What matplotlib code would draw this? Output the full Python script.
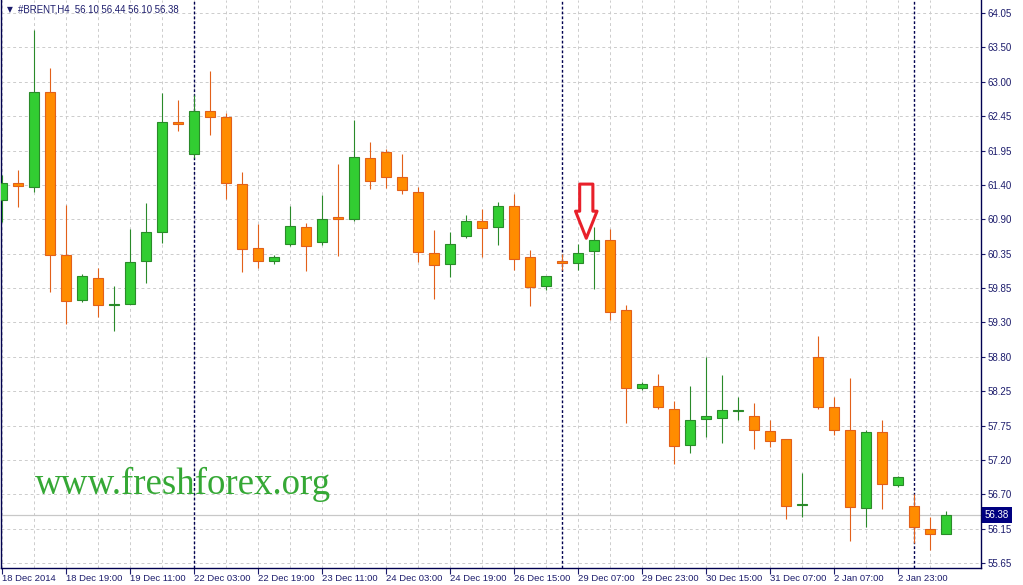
import matplotlib
matplotlib.use("Agg")
import matplotlib.figure
import matplotlib.transforms as mtransforms
import numpy

# H4 candles (open, high, low, close)
opens = [61.20, 61.45, 61.40, 62.84, 60.35, 59.66, 60.01, 59.59, 59.61, 60.27,
         60.70, 62.39, 61.89, 62.55, 62.46, 61.44, 60.46, 60.27, 60.52, 60.78,
         60.55, 60.93, 60.90, 61.83, 61.92, 61.54, 61.31, 60.38, 60.21, 60.64,
         60.88, 60.78, 61.10, 60.32, 59.88, 60.26, 60.23, 60.41, 60.59, 59.52,
         58.33, 58.35, 58.01, 57.45, 57.85, 57.87, 57.97, 57.89, 57.66, 57.54,
         56.53, 58.79, 58.04, 57.68, 56.49, 57.65, 56.84, 56.52, 56.17, 56.10]
highs = [61.58, 61.65, 63.79, 63.21, 61.12, 60.07, 60.16, 59.88, 60.75, 61.15,
         62.83, 62.72, 62.80, 63.16, 62.53, 61.62, 60.83, 60.35, 61.10, 60.84,
         61.27, 61.75, 62.42, 62.08, 61.98, 61.90, 61.40, 60.74, 60.70, 60.96,
         61.06, 61.16, 61.28, 60.43, 60.03, 60.37, 60.53, 60.78, 60.75, 59.59,
         58.41, 58.54, 58.12, 58.35, 58.79, 58.52, 58.18, 58.09, 57.83, 57.54,
         57.02, 59.11, 58.18, 58.47, 57.68, 57.83, 56.98, 56.71, 56.35, 56.44]
lows = [60.86, 61.09, 61.32, 59.79, 59.30, 59.64, 59.40, 59.20, 59.61, 59.93,
        60.54, 62.25, 61.83, 62.18, 61.21, 60.09, 60.15, 60.22, 60.49, 60.11,
        60.50, 60.34, 60.87, 61.37, 61.38, 61.28, 60.24, 59.69, 60.02, 60.62,
        60.33, 60.51, 60.13, 59.58, 59.82, 60.13, 60.13, 59.84, 59.36, 57.79,
        58.30, 58.00, 57.17, 57.33, 57.57, 57.48, 57.83, 57.39, 57.42, 56.32,
        56.36, 58.00, 57.60, 55.99, 56.20, 56.48, 56.81, 55.95, 55.85, 56.10]
closes = [61.46, 61.41, 62.85, 60.35, 59.65, 60.03, 59.59, 59.61, 60.24, 60.70,
          62.38, 62.35, 62.56, 62.46, 61.46, 60.44, 60.26, 60.33, 60.79, 60.49,
          60.91, 60.90, 61.85, 61.49, 61.54, 61.34, 60.40, 60.20, 60.52, 60.87,
          60.76, 61.10, 60.30, 59.86, 60.03, 60.23, 60.38, 60.58, 59.49, 58.32,
          58.39, 58.03, 57.43, 57.83, 57.89, 57.98, 57.98, 57.68, 57.51, 56.52,
          56.55, 58.03, 57.68, 56.50, 57.65, 56.85, 56.96, 56.20, 56.10, 56.38]

price_labels = ["64.05", "63.50", "63.00", "62.45", "61.95", "61.40", "60.90", "60.35",
                "59.85", "59.30", "58.80", "58.25", "57.75", "57.20", "56.70", "56.15", "55.65"]
time_labels = ["18 Dec 2014", "18 Dec 19:00", "19 Dec 11:00", "22 Dec 03:00", "22 Dec 19:00",
               "23 Dec 11:00", "24 Dec 03:00", "24 Dec 19:00", "26 Dec 15:00", "29 Dec 07:00",
               "29 Dec 23:00", "30 Dec 15:00", "31 Dec 07:00", "2 Jan 07:00", "2 Jan 23:00"]
separators = [12, 35, 57]   # week starts
signal_bar = 36.5           # where the red arrow points

navy = "#1c1c6c"
bull_fill, bull_edge = "#32cd32", "#2a8a2a"
bear_fill, bear_edge = "#ff8c00", "#e2601a"

matplotlib.rcParams["font.family"] = ["Liberation Sans", "DejaVu Sans"]

o = numpy.array(opens)
h = numpy.array(highs)
l = numpy.array(lows)
c = numpy.array(closes)
xs = numpy.arange(len(o))
up = c >= o

fig = matplotlib.figure.Figure(figsize=(10.23, 5.85), dpi=100)
ax = fig.add_axes([1 / 1023, 17 / 585, 980 / 1023, 568 / 585])

# wicks then bodies
ax.vlines(xs[up], l[up], h[up], color=bull_edge, lw=0.8, zorder=3)
ax.vlines(xs[~up], l[~up], h[~up], color=bear_edge, lw=0.8, zorder=3)
ax.bar(xs, numpy.abs(c - o), bottom=numpy.minimum(o, c), width=0.65,
       color=numpy.where(up, bull_fill, bear_fill),
       edgecolor=numpy.where(up, bull_edge, bear_edge), linewidth=0.8, zorder=4)

for s in separators:
    ax.axvline(s, color="#000050", lw=1.0, ls=(0, (2, 1.5)), zorder=2)
ax.axhline(c[-1], color="#c8c8c8", lw=0.9, zorder=1)

ax.set_xlim(-0.08, 61.17)
ax.set_ylim(55.574, 64.249)

ax.set_xticks(xs[::4], time_labels, ha="left")
ax.set_xticks(xs[2::4], minor=True)
ax.set_yticks(numpy.linspace(64.05, 55.65, len(price_labels)), price_labels)
ax.yaxis.tick_right()
ax.tick_params(axis="x", which="major", length=4, pad=0.5, colors=navy, labelsize=6.8)
ax.tick_params(axis="x", which="minor", length=0)
ax.tick_params(axis="y", length=3, pad=2, colors=navy, labelsize=7)
ax.grid(True, which="both", color="#cccccc", lw=0.7, ls=(0, (3, 3)), zorder=0)
ax.set_axisbelow(True)

ax.spines["top"].set_visible(False)
for side in ["left", "right", "bottom"]:
    ax.spines[side].set_color("#000050")
    ax.spines[side].set_linewidth(1)

# current price box on the scale
ax.text(1 + 4 / 980, c[-1], f"{c[-1]:.2f}",
        transform=mtransforms.blended_transform_factory(ax.transAxes, ax.transData),
        ha="left", va="center", color="white", fontsize=7, clip_on=False,
        bbox=dict(boxstyle="square,pad=0.3", fc="#000080", ec="none"))

# header
fig.text(7 / 1023, 1 - 10 / 585, "\u25bc", family="DejaVu Sans", fontsize=5.5, color=navy, va="center")
fig.text(18 / 1023, 1 - 10 / 585,
         f"#BRENT,H4  {o[-1]:.2f} {h[-1]:.2f} {l[-1]:.2f} {c[-1]:.2f}",
         fontsize=6.9, color=navy, va="center")

# red signal arrow
ax.annotate("", xy=(signal_bar, 60.61), xytext=(0, 39), textcoords="offset points",
            arrowprops=dict(arrowstyle="simple,head_length=1.95,head_width=1.55,tail_width=0.95",
                            mutation_scale=10, fc="white", ec="#e8202a", lw=2.2,
                            shrinkA=0, shrinkB=0), zorder=6)

fig.text(35 / 1023, 1 - 494 / 585, "www.freshforex.org", family="Liberation Serif",
         fontsize=26.6, color="#35a835", va="baseline")

fig.savefig("out.png", dpi=100)
